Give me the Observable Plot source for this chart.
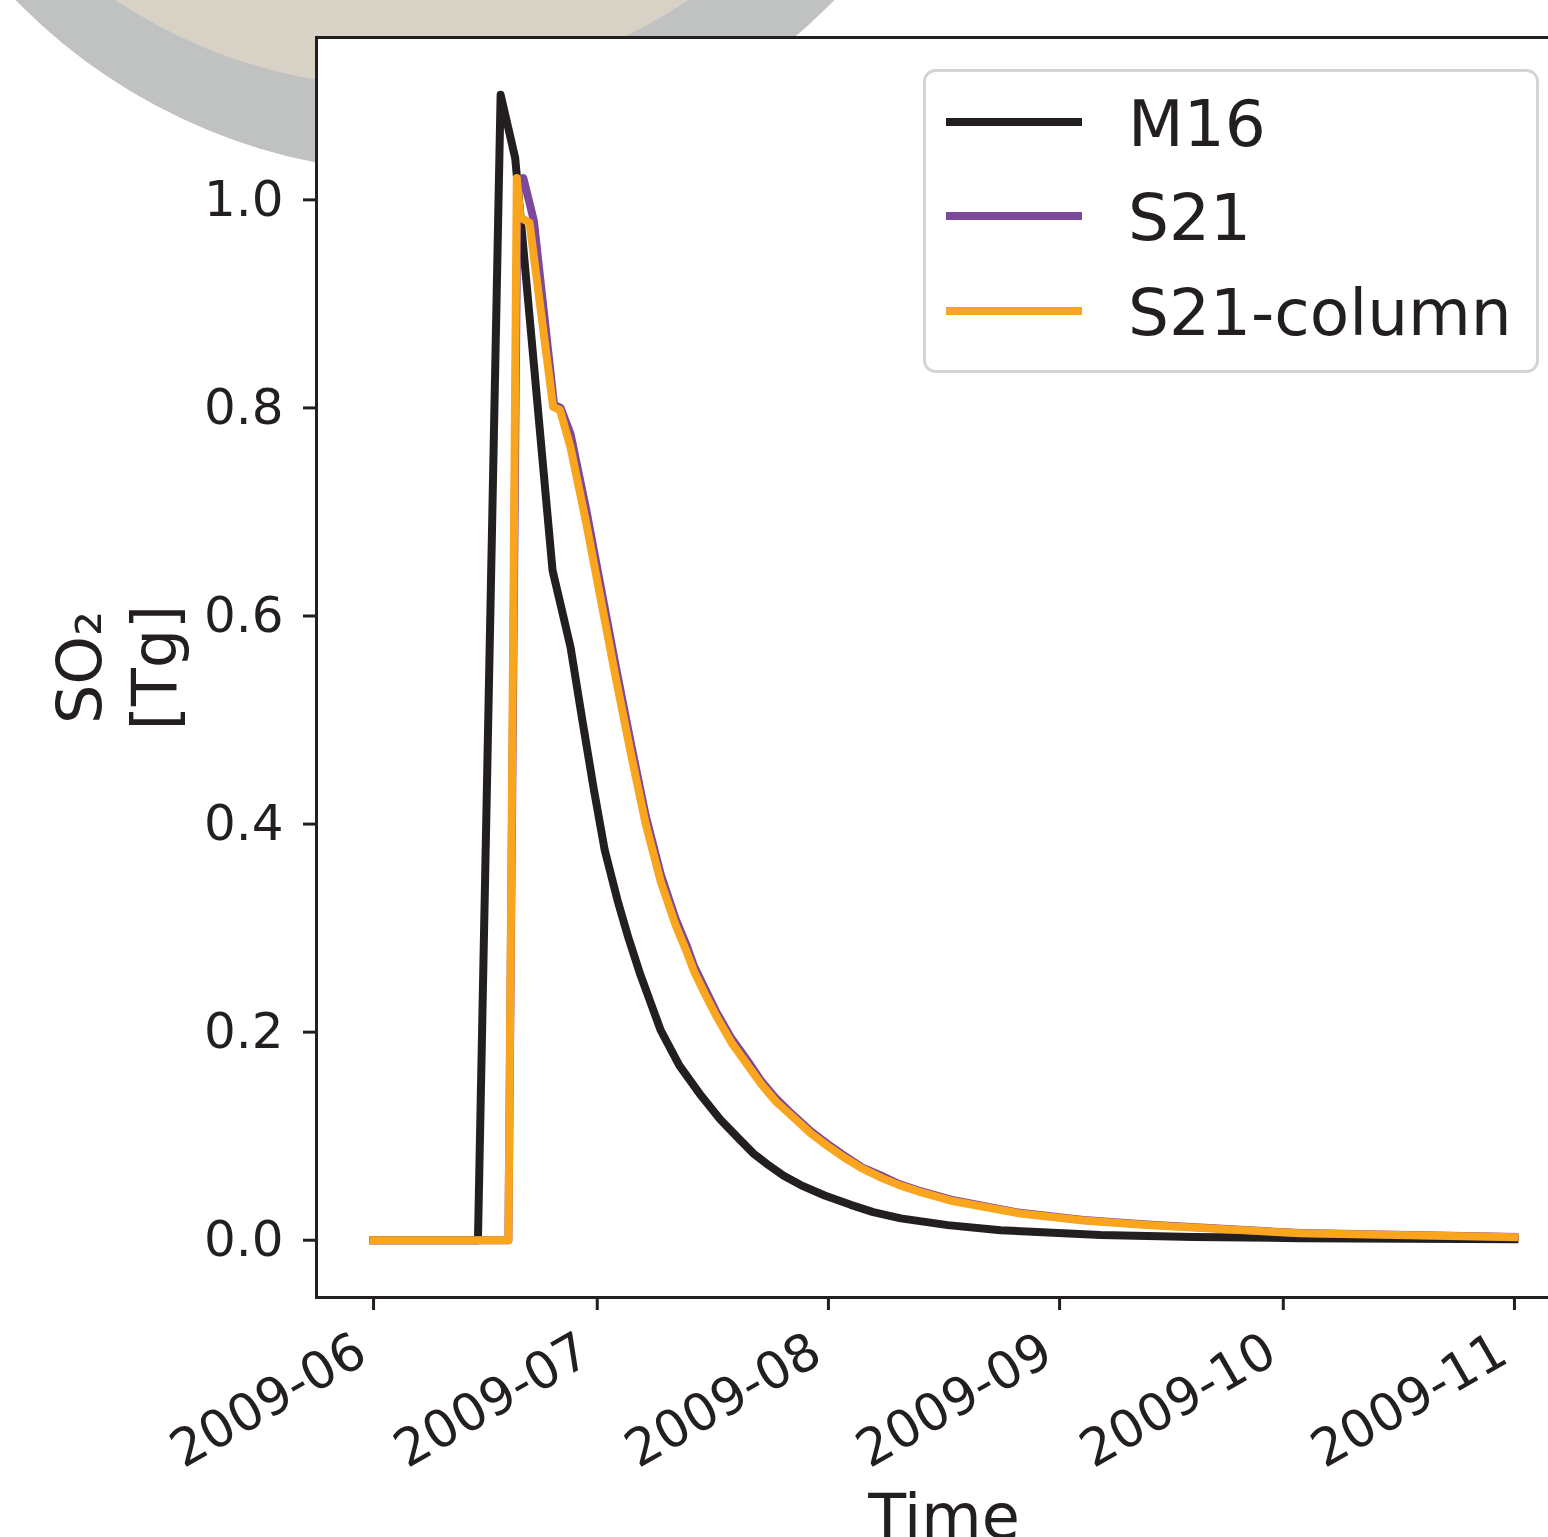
<!DOCTYPE html>
<html>
<head>
<meta charset="utf-8">
<script src="https://cdn.jsdelivr.net/npm/d3@7"></script>
<script src="https://cdn.jsdelivr.net/npm/@observablehq/plot@0.6"></script>
<style>
  html, body { margin: 0; padding: 0; background: #fff; overflow: hidden; }
  #wrap { position: relative; width: 1548px; height: 1537px; overflow: hidden; font-family: "DejaVu Sans", sans-serif; }
  #deco, #chart, #legend { position: absolute; left: 0; top: 0; }
</style>
</head>
<body>
<div id="wrap">
  <svg id="deco" width="1548" height="1537"></svg>
  <div id="chart"></div>
  <div id="legend"></div>
</div>
<script>
// ---------------- data ----------------
const seriesNames  = ["M16", "S21", "S21-column"];
const seriesColors = ["#231f20", "#7b4a9c", "#f9a51e"];

const m16Dates = [
  "2009-06-01T00:00", "2009-06-15T00:00", "2009-06-18T01:00", "2009-06-20T00:00",
  "2009-06-25T00:00", "2009-06-27T10:00", "2009-06-29T00:00", "2009-06-30T12:00",
  "2009-07-02T00:00", "2009-07-03T17:00", "2009-07-05T05:00", "2009-07-06T19:00",
  "2009-07-09T12:00", "2009-07-12T00:00", "2009-07-14T22:00", "2009-07-17T12:00",
  "2009-07-20T05:00", "2009-07-22T00:00", "2009-07-24T00:00", "2009-07-26T00:00",
  "2009-07-28T07:00", "2009-07-31T12:00", "2009-08-04T00:00", "2009-08-07T00:00",
  "2009-08-10T17:00", "2009-08-17T00:00", "2009-08-24T02:00", "2009-09-06T12:00",
  "2009-09-19T00:00", "2009-10-03T07:00", "2009-11-01T00:00"
];
const m16Values = [
  0, 0, 1.101, 1.04,
  0.644, 0.57, 0.50, 0.435,
  0.375, 0.327, 0.29, 0.255,
  0.202, 0.168, 0.139, 0.116,
  0.096, 0.083, 0.072, 0.062,
  0.053, 0.043, 0.034, 0.027,
  0.021, 0.0145, 0.0096, 0.005,
  0.0032, 0.002, 0.001
];

const s21Dates = [
  "2009-06-01T00:00", "2009-06-19T02:00", "2009-06-20T07:00", "2009-06-21T02:00",
  "2009-06-22T12:00", "2009-06-25T05:00", "2009-06-26T02:00", "2009-06-27T10:00",
  "2009-06-29T12:00", "2009-07-01T12:00", "2009-07-03T12:00", "2009-07-05T12:00",
  "2009-07-07T12:00", "2009-07-09T12:00", "2009-07-11T12:00", "2009-07-13T00:00",
  "2009-07-14T00:00", "2009-07-15T12:00", "2009-07-17T00:00", "2009-07-19T00:00",
  "2009-07-21T12:00", "2009-07-23T00:00", "2009-07-25T00:00", "2009-07-27T00:00",
  "2009-07-29T14:00", "2009-07-31T19:00", "2009-08-03T00:00", "2009-08-05T12:00",
  "2009-08-08T10:00", "2009-08-10T12:00", "2009-08-13T00:00", "2009-08-17T10:00",
  "2009-08-26T10:00", "2009-09-04T05:00", "2009-09-13T05:00", "2009-10-03T07:00",
  "2009-11-01T00:00"
];
const s21Values = [
  0, 0, 1.005, 1.021,
  0.98, 0.803, 0.800, 0.775,
  0.703, 0.627, 0.551, 0.478,
  0.408, 0.352, 0.309, 0.283,
  0.263, 0.241, 0.219, 0.194,
  0.169, 0.153, 0.136, 0.122,
  0.105, 0.093, 0.082, 0.070,
  0.061, 0.054, 0.048, 0.039,
  0.0266, 0.0195, 0.0148, 0.0069,
  0.0031
];

const s21colDates = [
  "2009-06-01T00:00", "2009-06-19T02:00", "2009-06-20T05:00", "2009-06-20T17:00",
  "2009-06-21T22:00", "2009-06-25T02:00", "2009-06-26T00:00", "2009-06-27T10:00",
  "2009-06-29T12:00", "2009-07-01T12:00", "2009-07-03T12:00", "2009-07-05T12:00",
  "2009-07-07T12:00", "2009-07-09T12:00", "2009-07-11T12:00", "2009-07-13T00:00",
  "2009-07-14T00:00", "2009-07-15T12:00", "2009-07-17T00:00", "2009-07-19T00:00",
  "2009-07-21T12:00", "2009-07-23T00:00", "2009-07-25T00:00", "2009-07-27T00:00",
  "2009-07-29T14:00", "2009-07-31T19:00", "2009-08-03T00:00", "2009-08-05T12:00",
  "2009-08-08T10:00", "2009-08-10T12:00", "2009-08-13T00:00", "2009-08-17T10:00",
  "2009-08-26T10:00", "2009-09-04T05:00", "2009-09-13T05:00", "2009-10-03T07:00",
  "2009-11-01T00:00"
];
const s21colValues = [
  0, 0, 1.021, 0.983,
  0.978, 0.801, 0.798, 0.762,
  0.69, 0.615, 0.54, 0.468,
  0.40, 0.345, 0.303, 0.277,
  0.258, 0.236, 0.215, 0.19,
  0.165, 0.15, 0.133, 0.12,
  0.103, 0.091, 0.080, 0.069,
  0.059, 0.053, 0.047, 0.038,
  0.026, 0.019, 0.0144, 0.0067,
  0.003
];

const xTickDates  = ["2009-06-01", "2009-07-01", "2009-08-01", "2009-09-01", "2009-10-01", "2009-11-01"];
const yTickValues = [0.0, 0.2, 0.4, 0.6, 0.8, 1.0];
const xLabel = "Time";
const yLabel = "SO₂\n[Tg]";

// ---------------- build ----------------
const toRows = (dates, values, name) =>
  dates.map((d, i) => ({ date: new Date(d + "Z"), value: values[i], series: name }));
const rows = [
  toRows(m16Dates, m16Values, seriesNames[0]),
  toRows(s21Dates, s21Values, seriesNames[1]),
  toRows(s21colDates, s21colValues, seriesNames[2])
];
const xTicks = xTickDates.map(d => new Date(d + "T00:00Z"));

// matplotlib-like 5% margins
const allDates = rows.flat().map(r => +r.date);
const dMin = d3.min(allDates), dMax = d3.max(allDates);
const dPad = 0.05 * (dMax - dMin);
const vMax = d3.max(rows.flat(), r => r.value), vMin = 0;
const vPad = 0.05 * (vMax - vMin);

const ink = "#231f20";
const fmtMonth = d3.utcFormat("%Y-%m");

const chart = Plot.plot({
  width: 1548,
  height: 1537,
  marginLeft: 316,
  marginTop: 37,
  marginBottom: 240,
  marginRight: -23,
  x: { type: "utc", domain: [new Date(dMin - dPad), new Date(dMax + dPad)], label: null },
  y: { domain: [vMin - vPad, vMax + vPad], label: null },
  style: { background: "transparent", fontFamily: "'DejaVu Sans', sans-serif", color: ink, overflow: "hidden" },
  marks: [
    Plot.frame({ fill: "white", stroke: "none" }),
    ...rows.map((r, i) => Plot.lineY(r, {
      x: "date", y: "value", stroke: seriesColors[i], strokeWidth: 8,
      strokeLinejoin: "round", strokeLinecap: "square"
    })),
    Plot.frame({ stroke: ink, strokeWidth: 3 }),
    Plot.axisY({
      ticks: yTickValues, tickFormat: d3.format(".1f"), tickSize: 13, tickPadding: 20,
      fontSize: 50, strokeWidth: 3, label: null, stroke: ink
    }),
    Plot.axisX({
      ticks: xTicks, tickFormat: () => "", tickSize: 13, strokeWidth: 3, label: null, stroke: ink
    }),
    Plot.text(xTicks, {
      x: d => d, text: d => fmtMonth(d), frameAnchor: "bottom",
      rotate: -30, textAnchor: "end", lineAnchor: "top", dx: -22, dy: 32,
      fontSize: 51.5, fill: ink
    }),
    Plot.text([yLabel], {
      frameAnchor: "left", rotate: -90, dx: -202, lineHeight: 1.2,
      fontSize: 62, textAnchor: "middle", lineAnchor: "middle", fill: ink
    }),
    Plot.text([xLabel], {
      frameAnchor: "bottom", dy: 196, lineAnchor: "top", fontSize: 62,
      textAnchor: "middle", fill: ink
    })
  ]
});
document.getElementById("chart").appendChild(chart);

// ---------------- background decoration (blurred logo fragment) ----------------
const deco = d3.select("#deco");
deco.append("circle").attr("cx", 425).attr("cy", -398).attr("r", 571).attr("fill", "#c0c1c1");
deco.append("circle").attr("cx", 402).attr("cy", -429).attr("r", 516).attr("fill", "#d7d2c5");

// ---------------- legend ----------------
const lg = d3.select("#legend")
  .style("left", "923px").style("top", "69px");
const lsvg = lg.append("svg").attr("width", 617).attr("height", 305)
  .style("font-family", "'DejaVu Sans', sans-serif");
lsvg.append("rect").attr("x", 1.5).attr("y", 1.5).attr("width", 613).attr("height", 301)
  .attr("rx", 11).attr("fill", "rgba(255,255,255,0.8)").attr("stroke", "#d4d4d4").attr("stroke-width", 3);
const rowY = [53, 147, 242];
seriesNames.forEach((name, i) => {
  lsvg.append("line").attr("x1", 23).attr("x2", 159).attr("y1", rowY[i]).attr("y2", rowY[i])
    .attr("stroke", seriesColors[i]).attr("stroke-width", 8);
  lsvg.append("text").attr("x", 205).attr("y", rowY[i] + 23.5)
    .attr("font-size", 64.5).attr("fill", ink).text(name);
});
</script>
</body>
</html>
